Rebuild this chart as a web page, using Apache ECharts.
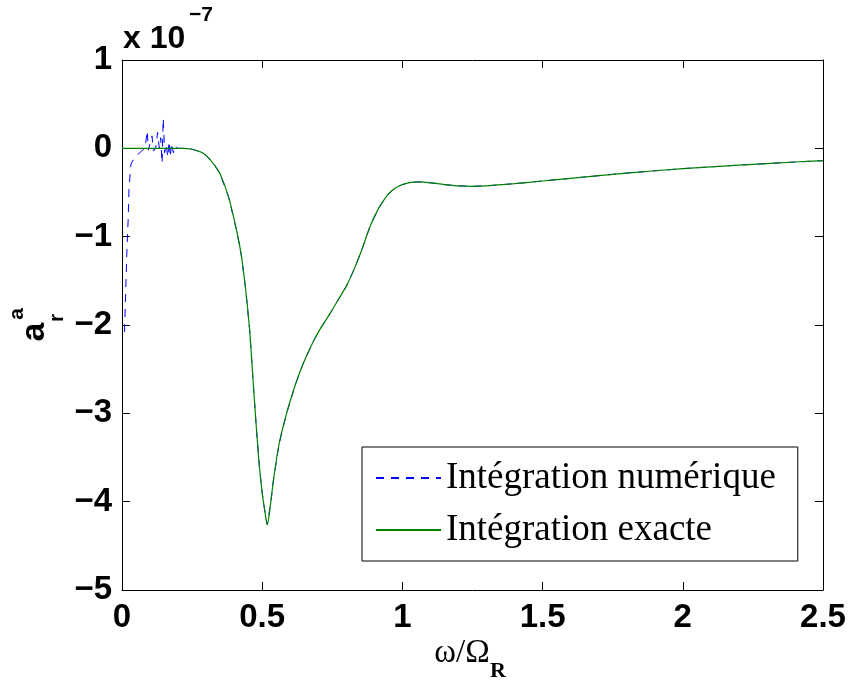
<!DOCTYPE html>
<html>
<head>
<meta charset="utf-8">
<script src="https://cdn.jsdelivr.net/npm/echarts@6/dist/echarts.min.js"></script>
<style>
    html, body { margin: 0; padding: 0; background: #fff; }
    #chart { width: 850px; height: 681px; }
</style>
</head>
<body>
<div id="chart"></div>
<script>
// values of a_r^a in units of 1e-7
const omegaExact = [0, 0.05, 0.1, 0.15, 0.2, 0.22, 0.25, 0.28, 0.3, 0.33, 0.35, 0.38, 0.41, 0.425, 0.44,
    0.455, 0.47, 0.48, 0.49, 0.5, 0.51, 0.518, 0.53, 0.54, 0.56, 0.587, 0.62, 0.647, 0.68, 0.706,
    0.74, 0.77, 0.8, 0.825, 0.855, 0.884, 0.915, 0.944, 0.97, 1.0, 1.03, 1.063, 1.1, 1.15, 1.2,
    1.25, 1.3, 1.4, 1.5, 1.6, 1.8, 2.0, 2.2, 2.4, 2.5];
const arExact = [0, 0, 0, 0, 0, 0, -0.01, -0.04, -0.08, -0.19, -0.29, -0.55, -0.95, -1.2, -1.57,
    -2.05, -2.75, -3.2, -3.6, -3.9, -4.12, -4.26, -4.02, -3.76, -3.35, -3.0, -2.66, -2.43, -2.2, -2.05,
    -1.88, -1.72, -1.56, -1.39, -1.15, -0.89, -0.68, -0.54, -0.46, -0.41, -0.385, -0.38, -0.39, -0.41, -0.425,
    -0.43, -0.425, -0.4, -0.37, -0.34, -0.28, -0.23, -0.19, -0.155, -0.14];

// numerical integration: noisy start, then matches the exact curve
const omegaNumStart = [0.009, 0.017, 0.022, 0.025, 0.032, 0.045, 0.056, 0.07, 0.082, 0.087, 0.09, 0.094,
    0.1, 0.107, 0.112, 0.12, 0.127, 0.133, 0.138, 0.143, 0.147, 0.152, 0.158, 0.163, 0.168, 0.172,
    0.177, 0.183, 0.19, 0.197];
const arNumStart = [-2.08, -1.2, -0.8, -0.45, -0.18, -0.1, -0.07, -0.03, 0, 0, 0.2, -0.02,
    0, 0.14, -0.03, 0, 0.18, 0, 0.12, -0.17, 0.34, -0.05, 0.05, -0.1, 0.08, -0.1,
    0.06, -0.05, 0.03, 0];

const xTicks = [0, 0.5, 1, 1.5, 2, 2.5];
const yTicks = [-5, -4, -3, -2, -1, 0, 1];

const exactData = omegaExact.map((x, i) => [x, arExact[i]]);
const numData = omegaNumStart.map((x, i) => [x, arNumStart[i]])
    .concat(exactData.filter(p => p[0] >= 0.2));

const tickFont = {
    fontFamily: 'Liberation Sans',
    fontWeight: 'bold',
    fontSize: 33,
    color: '#000'
};
const axisLine = { show: true, onZero: false, lineStyle: { color: '#000', width: 1 } };
const axisTick = { show: true, inside: true, length: 8, lineStyle: { color: '#000', width: 1 } };

let myChart = echarts.init(document.getElementById('chart'), null, { renderer: 'canvas' });

const option = {
    backgroundColor: '#fff',
    animation: false,
    grid: { left: 122, right: 27, top: 60, bottom: 91 },
    xAxis: [
        {
            type: 'value', position: 'bottom',
            min: xTicks[0], max: xTicks[xTicks.length - 1], interval: 0.5,
            axisLine: axisLine, axisTick: axisTick, splitLine: { show: false },
            axisLabel: Object.assign({ margin: 11 }, tickFont)
        },
        {
            type: 'value', position: 'top',
            min: xTicks[0], max: xTicks[xTicks.length - 1], interval: 0.5,
            axisLine: axisLine, axisTick: axisTick, splitLine: { show: false },
            axisLabel: { show: false }
        }
    ],
    yAxis: [
        {
            type: 'value', position: 'left',
            min: yTicks[0], max: yTicks[yTicks.length - 1], interval: 1,
            axisLine: axisLine, axisTick: axisTick, splitLine: { show: false },
            axisLabel: Object.assign({
                margin: 10,
                formatter: v => String(v).replace('-', '\u2212')
            }, tickFont)
        },
        {
            type: 'value', position: 'right',
            min: yTicks[0], max: yTicks[yTicks.length - 1], interval: 1,
            axisLine: axisLine, axisTick: axisTick, splitLine: { show: false },
            axisLabel: { show: false }
        }
    ],
    legend: {
        orient: 'vertical',
        left: 362, top: 447,
        padding: [10, 22, 10, 13],
        itemWidth: 65, itemHeight: 14, itemGap: 10,
        borderColor: '#000', borderWidth: 1,
        backgroundColor: '#fff',
        itemStyle: { opacity: 0 },
        textStyle: { fontFamily: 'Liberation Serif', fontSize: 37, color: '#000', lineHeight: 42 },
        data: ['Intégration numérique', 'Intégration exacte']
    },
    graphic: [
        { type: 'text', x: 123, y: 39, style: { text: 'x 10', font: 'bold 32px "Liberation Sans"', fill: '#000', textAlign: 'left', textVerticalAlign: 'middle' } },
        { type: 'text', x: 189, y: 15, style: { text: '\u22127', font: 'bold 21px "Liberation Sans"', fill: '#000', textAlign: 'left', textVerticalAlign: 'middle' } },
        { type: 'text', x: 35, y: 332, rotation: Math.PI / 2, style: { text: 'a', font: 'bold 34px "Liberation Sans"', fill: '#000', textAlign: 'center', textVerticalAlign: 'middle' } },
        { type: 'text', x: 17, y: 314, rotation: Math.PI / 2, style: { text: 'a', font: 'bold 21px "Liberation Sans"', fill: '#000', textAlign: 'center', textVerticalAlign: 'middle' } },
        { type: 'text', x: 57, y: 318, rotation: Math.PI / 2, style: { text: 'r', font: 'bold 21px "Liberation Sans"', fill: '#000', textAlign: 'center', textVerticalAlign: 'middle' } },
        { type: 'text', x: 462, y: 653, style: { text: 'ω/Ω', font: '33px "Liberation Serif"', fill: '#000', textAlign: 'center', textVerticalAlign: 'middle' } },
        { type: 'text', x: 498, y: 671, style: { text: 'R', font: 'bold 22px "Liberation Serif"', fill: '#000', textAlign: 'center', textVerticalAlign: 'middle' } }
    ],
    series: [
        {
            name: 'Intégration numérique',
            type: 'line',
            data: numData,
            symbol: 'none',
            smooth: false,
            z: 2,
            lineStyle: { color: '#0000ff', width: 1, type: [8, 7] },
            itemStyle: { color: '#0000ff' }
        },
        {
            name: 'Intégration exacte',
            type: 'line',
            data: exactData,
            symbol: 'none',
            smooth: 0.3,
            z: 3,
            lineStyle: { color: '#008000', width: 1.2 },
            itemStyle: { color: '#008000' }
        }
    ]
};

if (option && typeof option === "object") {
    myChart.setOption(option, true);
    window.onresize = function() {
        myChart.resize();
    };
}
</script>
</body>
</html>
